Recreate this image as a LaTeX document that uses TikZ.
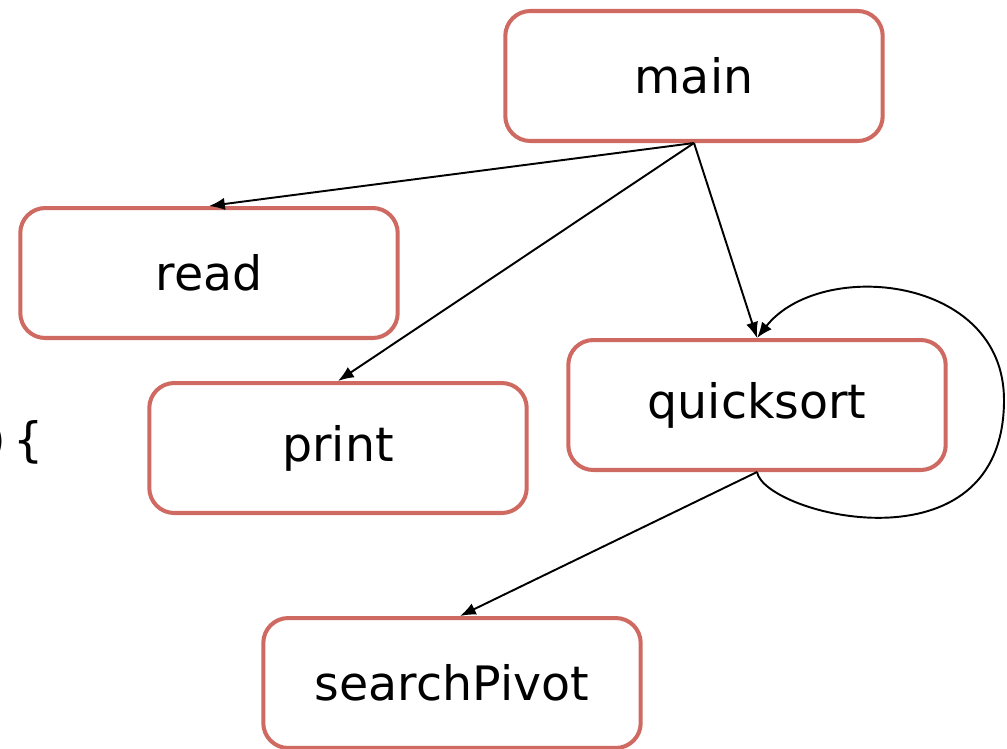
\documentclass[tikz,border=0pt]{standalone}
\usepackage{fontspec}
\setmainfont{DejaVu Sans}
\usetikzlibrary{shapes, positioning, arrows.meta}
\definecolor{boxred}{RGB}{207,106,98}
\begin{document}
\begin{tikzpicture}[
      x=0.02cm, y=-0.02cm,
      func/.style={draw=boxred, line width=2.3pt, rounded corners=0.5cm,
        minimum width=7.55cm, minimum height=2.6cm, font=\fontsize{27}{32}\selectfont},
      call/.style={-{Latex[length=9pt,width=7pt]}, line width=1.1pt}
    ]
    \useasboundingbox (0,0) rectangle (1007,748);
    \node[func] (main) at (694,76) {main};
    \node[func] (read) at (209,273) {read};
    \node[func] (print) at (338,448) {print};
    \node[func] (quicksort) at (757,405) {quicksort};
    \node[func] (searchPivot) at (452,683) {searchPivot};
    \node[anchor=east, font=\fontsize{27}{32}\selectfont, inner sep=0pt] (brace) at (44,442) {)\,\{};
    \draw[call] (main.south) -- (read.north);
    \draw[call] (main.south) -- (print.north);
    \draw[call] (main.south) -- (quicksort.north);
    \draw[call] (quicksort.south) -- ([xshift=0.16cm]searchPivot.north);
    \draw[call] (quicksort.south) .. controls (765,515) and (1004,575) .. (1004,400)
      .. controls (1004,275) and (820,258) .. (quicksort.north);
\end{tikzpicture}
\end{document}
